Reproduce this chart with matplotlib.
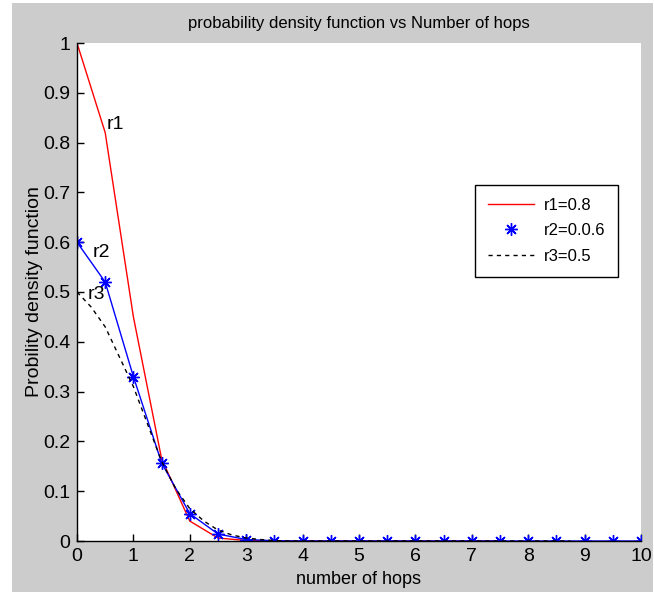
import numpy as np
import matplotlib
matplotlib.use("Agg")
import matplotlib.pyplot as plt
from matplotlib.lines import Line2D
from matplotlib.patches import Rectangle

# data
x_r1 = np.arange(0, 7.51, 0.5)
y_r1 = [1.0, 0.82, 0.45, 0.165, 0.04, 0.006, 0.001] + [0.0] * 9

x_r2 = np.arange(0, 10.01, 0.5)
y_r2 = [0.6, 0.52, 0.33, 0.157, 0.055, 0.014, 0.003, 0.0005] + [0.0] * 13

x_r3 = np.arange(0, 8.76, 0.25)
y_r3 = [0.5, 0.47, 0.43, 0.37, 0.31, 0.235, 0.16, 0.105, 0.065, 0.04,
        0.022, 0.012, 0.006, 0.003, 0.001] + [0.0] * 21

legend_labels = ["r1=0.8", "r2=0.0.6", "r3=0.5"]
x_ticks = list(range(0, 11))
y_ticks = [0, 0.1, 0.2, 0.3, 0.4, 0.5, 0.6, 0.7, 0.8, 0.9, 1]
y_tick_labels = ["0", "0.1", "0.2", "0.3", "0.4", "0.5", "0.6", "0.7", "0.8", "0.9", "1"]

plt.rcParams['font.family'] = ['Liberation Sans', 'DejaVu Sans']

W, H = 654, 592
fig = plt.figure(figsize=(W / 100, H / 100), dpi=100, facecolor="white")
# grey matlab-like window background
fig.patches.append(Rectangle((12 / W, 0), (653 - 12) / W, 1 - 3 / H,
                             transform=fig.transFigure, facecolor="#cccccc",
                             edgecolor="none", zorder=-10))

ax = fig.add_axes([77 / W, 1 - 541 / H, (641 - 77) / W, (541 - 43) / H])
ax.set_facecolor("white")

ax.plot(x_r1, y_r1, color="red", lw=1.0)
ax.plot(x_r2, y_r2, color="blue", lw=1.0, marker=(8, 2, 0), ms=9, mew=1.0)
ax.plot(x_r3, y_r3, color="black", lw=1.0, ls=(0, (3, 3)))

ax.text(0.53, 0.837, "r1", fontsize=14, va="center", ha="left")
ax.text(0.27, 0.58, "r2", fontsize=14, va="center", ha="left")
ax.text(0.18, 0.495, "r3", fontsize=14, va="center", ha="left")

ax.set_xlim(0, 10)
ax.set_ylim(0, 1)
ax.set_xticks(x_ticks)
ax.set_yticks(y_ticks)
ax.set_yticklabels(y_tick_labels)
ax.tick_params(direction="in", length=5, width=1, labelsize=14, pad=5)
for s in ["top", "right"]:
    ax.spines[s].set_visible(False)
for s in ["left", "bottom"]:
    ax.spines[s].set_linewidth(1.0)

ax.set_title("probability density function vs Number of hops", fontsize=12, pad=11)
ax.set_xlabel("number of hops", fontsize=13, labelpad=4)
ax.set_ylabel("Probility density function", fontsize=14, labelpad=0)

handles = [
    Line2D([], [], color="red", lw=1.0),
    Line2D([], [], color="blue", lw=0, marker=(8, 2, 0), ms=9, mew=1.0),
    Line2D([], [], color="black", lw=1.0, ls=(0, (3, 3))),
]
leg = fig.legend(handles, legend_labels, loc="upper left",
                 bbox_to_anchor=(475 / W, 1 - 185 / H), fontsize=12,
                 frameon=True, fancybox=False, framealpha=1, borderpad=0.75,
                 borderaxespad=0, handlelength=2.8, handletextpad=0.6,
                 labelspacing=0.65)
leg.get_frame().set_edgecolor("black")
leg.get_frame().set_facecolor("white")
leg.get_frame().set_linewidth(1.0)

fig.savefig("out.png", dpi=100, facecolor=fig.get_facecolor())
